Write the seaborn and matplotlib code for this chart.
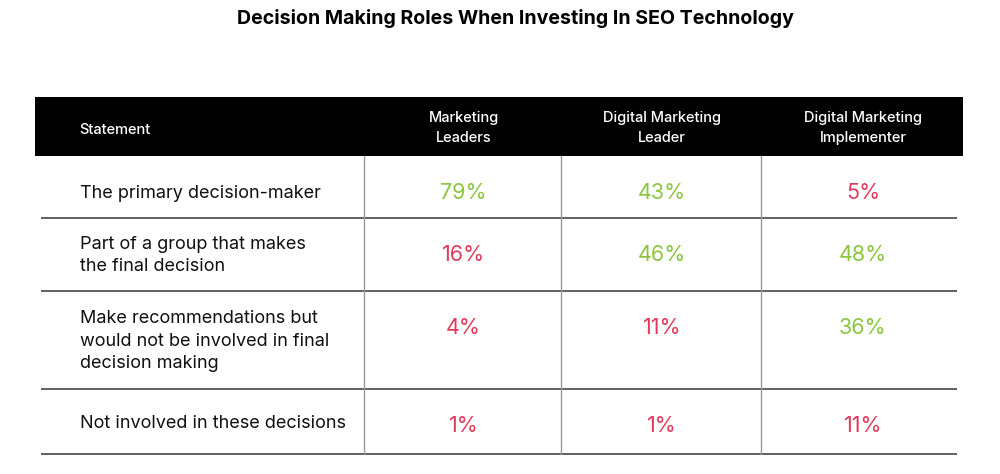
import matplotlib
matplotlib.use("Agg")
import matplotlib.pyplot as plt
import seaborn as sns
from matplotlib.patches import Rectangle

# ---- data ----
title = "Decision Making Roles When Investing In SEO Technology"
header_first = "Statement"
groups = ["Marketing\nLeaders", "Digital Marketing\nLeader", "Digital Marketing\nImplementer"]
statements = [
    "The primary decision-maker",
    "Part of a group that makes\nthe final decision",
    "Make recommendations but\nwould not be involved in final\ndecision making",
    "Not involved in these decisions",
]
marketing_leaders = [79, 16, 4, 1]
digital_marketing_leader = [43, 46, 11, 1]
digital_marketing_implementer = [5, 48, 36, 11]

# ---- style ----
sns.set_theme(style="white")
plt.rcParams["font.family"] = ["Inter", "DejaVu Sans"]
GREEN = "#8cc63f"
RED = "#e23c5b"

fig = plt.figure(figsize=(10, 4.74), dpi=100)
ax = fig.add_axes([0, 0, 1, 1])
ax.set_xlim(0, 1000)
ax.set_ylim(474, 0)
ax.axis("off")

# layout grid
col_edges = [35, 364, 561, 761, 963]
header_top, header_bot = 97, 156
row_bottoms = [218, 291, 389, 454]
row_tops = [header_bot] + row_bottoms[:-1]
stmt_shift = [6, 1, 1, 2]

fig.text(0.5155, 1 - 19 / 474, title, ha="center", va="center",
         fontsize=14.1, fontweight="bold", color="black")

# header band
ax.add_patch(Rectangle((col_edges[0], header_top), col_edges[-1] - col_edges[0],
                       header_bot - header_top, facecolor="black", edgecolor="none"))
hy = (header_top + header_bot) / 2
ax.text(79, hy + 4, header_first, ha="left", va="center", color="white",
        fontsize=10.5, fontweight="medium")
centers = [(col_edges[i] + col_edges[i + 1]) / 2 for i in range(1, 4)]
for cx, g in zip(centers, groups):
    ax.text(cx + 1, hy + 1.5, g, ha="center", va="center", color="white",
            fontsize=10.5, fontweight="medium", linespacing=1.6)

# grid lines
for yb in row_bottoms:
    ax.plot([41, 957], [yb, yb], color="#555555", lw=1.3, solid_capstyle="butt")
for xv in col_edges[1:4]:
    ax.plot([xv, xv], [header_bot, row_bottoms[-1]], color="#9a9a9a", lw=1.0)

# body
series = [marketing_leaders, digital_marketing_leader, digital_marketing_implementer]
for r, (st, top, bot) in enumerate(zip(statements, row_tops, row_bottoms)):
    ax.text(80, (top + bot) / 2 + stmt_shift[r], st, ha="left", va="center",
            color="#111111", fontsize=13, linespacing=1.4)
    for cx, vals in zip(centers, series):
        v = vals[r]
        ax.text(cx + 1, top + 37, f"{v}%", ha="center", va="center",
                color=GREEN if v >= 30 else RED, fontsize=15.5, fontweight="normal")

fig.savefig("out.png", dpi=100, facecolor="white")
